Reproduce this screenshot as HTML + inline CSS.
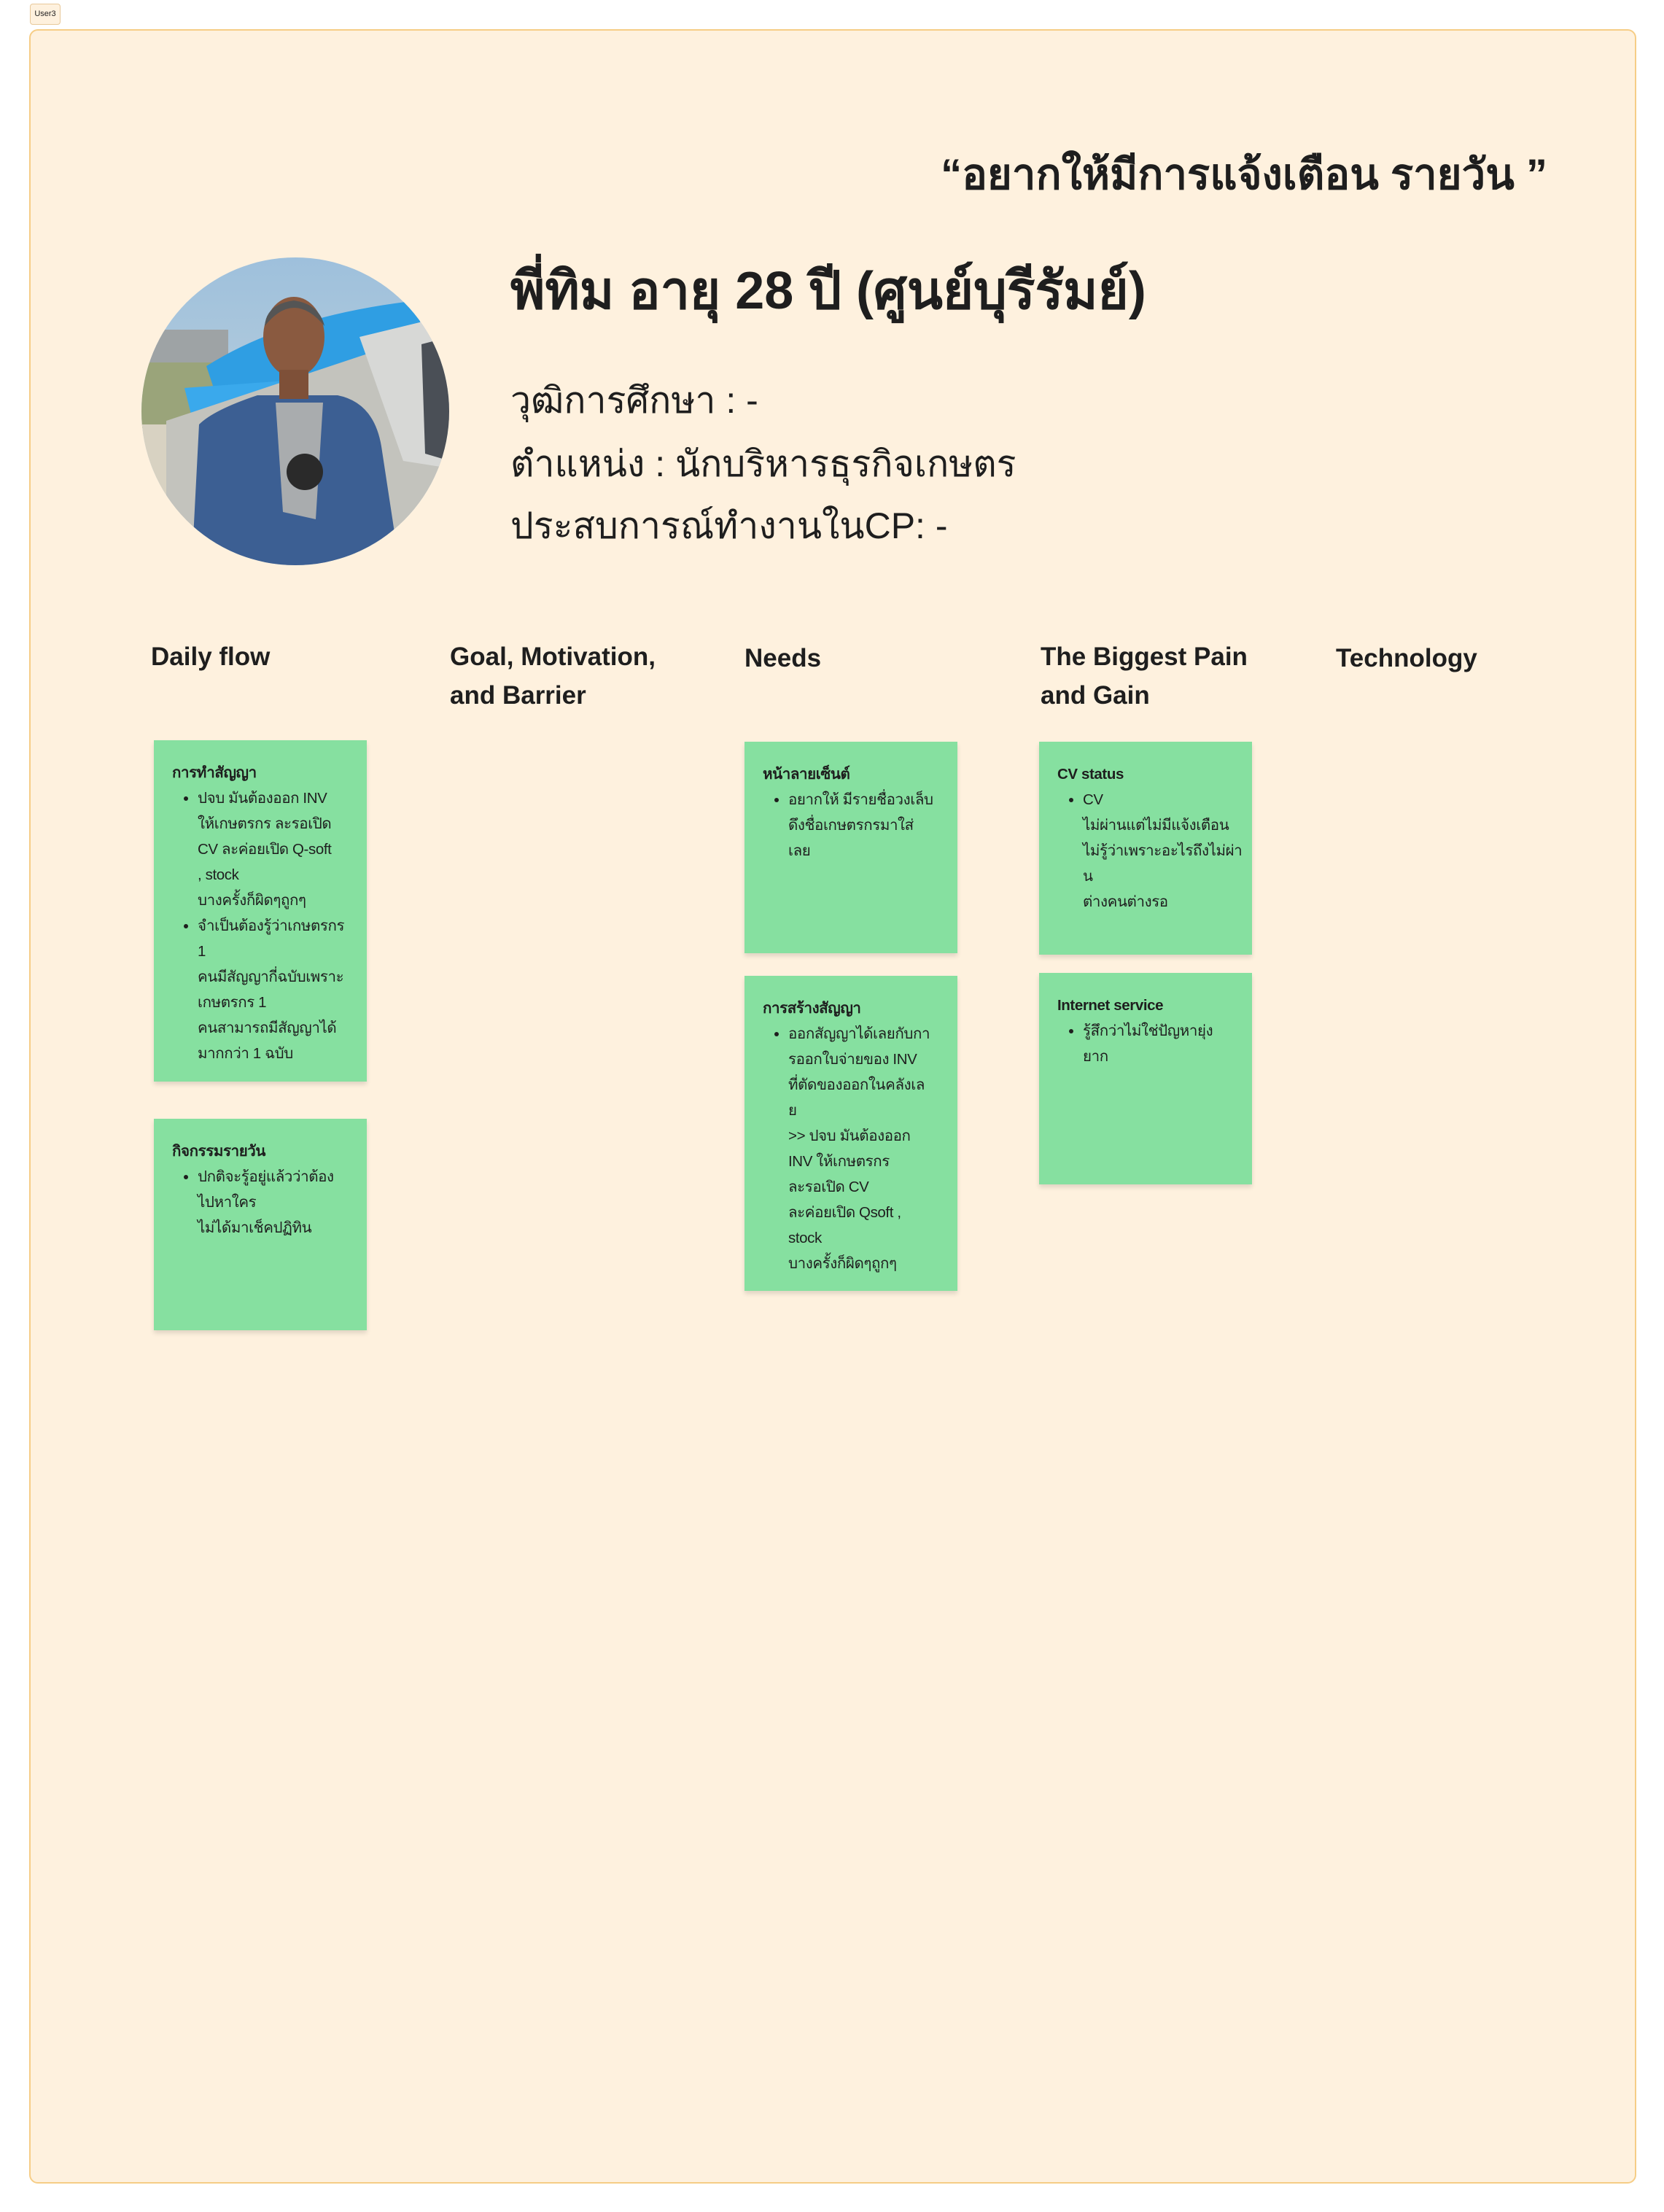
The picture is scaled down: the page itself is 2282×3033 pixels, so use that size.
<!DOCTYPE html>
<html><head><meta charset="utf-8">
<style>
html,body{margin:0;padding:0;background:#fff;}
body{width:2282px;height:3033px;position:relative;overflow:hidden;font-family:"Liberation Sans","DejaVu Sans",sans-serif;color:#1e1e1e;}
.abs{position:absolute;}
.frame{left:40px;top:40px;width:2200px;height:2950px;background:#FEF1DE;border:2px solid #F6CD86;border-radius:12px;}
.tag{left:41px;top:5px;width:40px;height:27px;border:1px solid #e8c99a;background:#FEF1DE;border-radius:4px;font-size:11px;line-height:27px;text-align:center;}
.quote{right:160px;top:192px;font-size:58px;font-weight:bold;white-space:nowrap;}
.name{left:700px;top:340px;font-size:72px;font-weight:bold;white-space:nowrap;}
.info{left:700px;font-size:50px;white-space:nowrap;}
.colh{font-size:35px;font-weight:bold;line-height:53px;}
.sticky{background:#86E0A0;box-shadow:0 4px 6px rgba(0,0,0,0.12);width:292px;box-sizing:border-box;padding:27px 10px 0 25px;font-size:20.5px;line-height:35px;white-space:nowrap;letter-spacing:-0.4px;overflow:hidden;}
.sticky b{display:block;}
.sticky ul{margin:0;padding:0 0 0 35px;}
.sticky li{margin:0;}
</style></head>
<body>
<div class="abs tag">User3</div>
<div class="abs frame"></div>

<div class="abs quote">“อยากให้มีการแจ้งเตือน รายวัน ”</div>

<svg class="abs" style="left:193px;top:352px" width="424" height="424" viewBox="0 0 424 424">
<defs><clipPath id="c"><circle cx="212" cy="212" r="211"/></clipPath>
<linearGradient id="sky" x1="0" y1="0" x2="0" y2="1"><stop offset="0" stop-color="#9ec0dc"/><stop offset="1" stop-color="#c9d7de"/></linearGradient></defs>
<g clip-path="url(#c)">
<rect width="424" height="424" fill="url(#sky)"/>
<rect x="0" y="100" width="120" height="50" fill="#9ea3a5"/>
<rect x="0" y="145" width="200" height="90" fill="#9aa47a"/>
<rect x="0" y="230" width="120" height="194" fill="#d8d2c2"/>
<path d="M90 150 Q200 80 380 60 L400 250 L120 240 Z" fill="#2f9ee3"/>
<path d="M60 180 L200 170 L230 230 L70 220 Z" fill="#3aa9ec"/>
<path d="M35 225 L410 100 L424 424 L35 424 Z" fill="#c3c3bd"/>
<path d="M300 110 L424 80 L424 290 L360 280 Z" fill="#d7d8d6"/>
<path d="M385 120 L424 110 L424 280 L390 270 Z" fill="#4a4f56"/>
<path d="M80 230 Q100 210 160 190 L270 190 Q320 200 330 260 L355 424 L70 424 Z" fill="#3c5f93"/>
<path d="M185 200 L250 200 L240 360 L195 350 Z" fill="#a9acae"/>
<circle cx="225" cy="295" r="25" fill="#2a2a2a"/>
<ellipse cx="210" cy="110" rx="42" ry="55" fill="#8a5a40"/>
<path d="M170 95 Q210 45 252 95 Q245 65 210 60 Q172 65 170 95Z" fill="#555"/>
<rect x="190" y="155" width="40" height="40" fill="#7e5038"/>
</g></svg>

<div class="abs name">พี่ทิม อายุ 28 ปี (ศูนย์บุรีรัมย์)</div>
<div class="abs info" style="top:510px">วุฒิการศึกษา : -</div>
<div class="abs info" style="top:597px">ตำแหน่ง : นักบริหารธุรกิจเกษตร</div>
<div class="abs info" style="top:682px">ประสบการณ์ทำงานในCP: -</div>

<div class="abs colh" style="left:207px;top:874px">Daily flow</div>
<div class="abs colh" style="left:617px;top:874px">Goal, Motivation,<br>and Barrier</div>
<div class="abs colh" style="left:1021px;top:876px">Needs</div>
<div class="abs colh" style="left:1427px;top:874px">The Biggest Pain<br>and Gain</div>
<div class="abs colh" style="left:1832px;top:876px">Technology</div>

<div class="abs sticky" style="left:211px;top:1015px;height:468px">
<b>การทำสัญญา</b>
<ul><li>ปจบ มันต้องออก INV<br>ให้เกษตรกร ละรอเปิด<br>CV ละค่อยเปิด Q-soft<br>, stock<br>บางครั้งก็ผิดๆถูกๆ</li>
<li>จำเป็นต้องรู้ว่าเกษตรกร<br>1<br>คนมีสัญญากี่ฉบับเพราะ<br>เกษตรกร 1<br>คนสามารถมีสัญญาได้<br>มากกว่า 1 ฉบับ</li></ul>
</div>
<div class="abs sticky" style="left:211px;top:1534px;height:290px">
<b>กิจกรรมรายวัน</b>
<ul><li>ปกติจะรู้อยู่แล้วว่าต้อง<br>ไปหาใคร<br>ไม่ได้มาเช็คปฏิทิน</li></ul>
</div>
<div class="abs sticky" style="left:1021px;top:1017px;height:290px">
<b>หน้าลายเซ็นต์</b>
<ul><li>อยากให้ มีรายชื่อวงเล็บ<br>ดึงชื่อเกษตรกรมาใส่<br>เลย</li></ul>
</div>
<div class="abs sticky" style="left:1021px;top:1338px;height:432px">
<b>การสร้างสัญญา</b>
<ul><li>ออกสัญญาได้เลยกับกา<br>รออกใบจ่ายของ INV<br>ที่ตัดของออกในคลังเล<br>ย<br>&gt;&gt; ปจบ มันต้องออก<br>INV ให้เกษตรกร<br>ละรอเปิด CV<br>ละค่อยเปิด Qsoft ,<br>stock<br>บางครั้งก็ผิดๆถูกๆ</li></ul>
</div>
<div class="abs sticky" style="left:1425px;top:1017px;height:292px">
<b>CV status</b>
<ul><li>CV<br>ไม่ผ่านแต่ไม่มีแจ้งเตือน<br>ไม่รู้ว่าเพราะอะไรถึงไม่ผ่า<br>น<br>ต่างคนต่างรอ</li></ul>
</div>
<div class="abs sticky" style="left:1425px;top:1334px;height:290px">
<b>Internet service</b>
<ul><li>รู้สึกว่าไม่ใช่ปัญหายุ่ง<br>ยาก</li></ul>
</div>
</body></html>
